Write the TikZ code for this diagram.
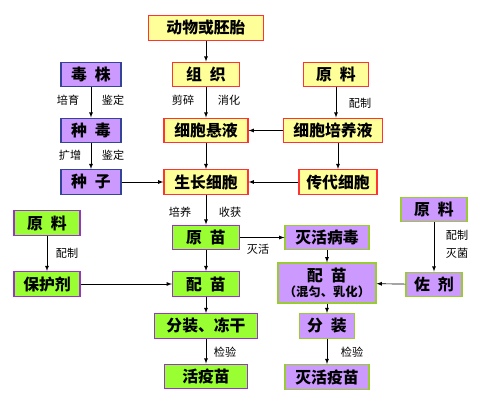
\documentclass[tikz,border=0pt]{standalone}
\usepackage{fontspec}
\setmainfont{Noto Sans CJK SC}
\usetikzlibrary{arrows}
\definecolor{ylwfill}{HTML}{FFFF99}
\definecolor{ylwline}{HTML}{FF3333}
\definecolor{prpfill}{HTML}{CC99FF}
\definecolor{prpline}{HTML}{334499}
\definecolor{prpline2}{HTML}{99CC33}
\definecolor{grnfill}{HTML}{99FF33}
\definecolor{grnline}{HTML}{9933CC}
\tikzset{
  box/.style={draw, line width=1pt, inner sep=0pt, font=\fontsize{13.5}{14}\selectfont\bfseries, minimum height=0.74cm},
  ylwbox/.style={box, fill=ylwfill, draw=ylwline},
  virbox/.style={box, fill=prpfill, draw=prpline},
  inabox/.style={box, fill=prpfill, draw=prpline2},
  grnbox/.style={box, fill=grnfill, draw=grnline},
  lbl/.style={font=\fontsize{9.5}{10}\selectfont, black},
  arr/.style={line width=0.2mm, black, ->, >=latex}
}
\begin{document}
\begin{tikzpicture}[x=0.03cm, y=-0.03cm]
    \useasboundingbox[fill=white] (0,0) rectangle (477,411);
    % top yellow part
    \node[ylwbox, minimum width=3.45cm] (embryo) at (206,28) {动物或胚胎};
    \node[ylwbox, minimum width=2.01cm] (tissue) at (206,74.5) {组\enspace 织};
    \node[ylwbox, minimum width=2.52cm] (susp) at (206,130.5) {细胞悬液};
    \node[ylwbox, minimum width=2.52cm] (grow) at (206,182) {生长细胞};
    \node[ylwbox, minimum width=1.95cm] (rawy) at (336,74.5) {原\enspace 料};
    \node[ylwbox, minimum width=2.97cm] (medium) at (333,130.5) {细胞培养液};
    \node[ylwbox, minimum width=2.34cm] (pass) at (338,182) {传代细胞};
    % virus seed
    \node[virbox, minimum width=1.8cm] (strain) at (91,74.5) {毒\enspace 株};
    \node[virbox, minimum width=1.8cm] (seedvir) at (91,130.5) {种\enspace 毒};
    \node[virbox, minimum width=1.8cm] (seed) at (91,182) {种\enspace 子};
    % live vaccine
    \node[grnbox, minimum width=1.98cm] (rawg) at (47,223) {原\enspace 料};
    \node[grnbox, minimum width=1.98cm] (protect) at (47,284) {保护剂};
    \node[grnbox, minimum width=2.01cm] (crude) at (206,237.5) {原\enspace 苗};
    \node[grnbox, minimum width=2.01cm] (mixg) at (206,284) {配\enspace 苗};
    \node[grnbox, minimum width=3.09cm] (fill) at (206,326) {分装、冻干};
    \node[grnbox, minimum width=2.49cm] (live) at (206,376.5) {活疫苗};
    % inactivated vaccine
    \node[inabox, minimum width=2.52cm] (kill) at (327,237.5) {灭活病毒};
    \node[inabox, minimum width=2.94cm, minimum height=1.2cm, align=center] (mixp) at (327,283)
        {配\enspace 苗\\[-1pt]{\fontsize{10.5}{11}\selectfont （混匀、乳化）}};
    \node[inabox, minimum width=1.98cm] (rawp) at (434,209.5) {原\enspace 料};
    \node[inabox, minimum width=1.68cm] (adj) at (434,284.5) {佐\enspace 剂};
    \node[inabox, minimum width=1.65cm] (fillp) at (327,326) {分\enspace 装};
    \node[inabox, minimum width=2.52cm] (dead) at (327,377) {灭活疫苗};
    % arrows
    \draw[arr] (embryo) -- (tissue);
    \draw[arr] (tissue) -- (susp);
    \draw[arr] (susp) -- (grow);
    \draw[arr] (grow) -- (crude);
    \draw[arr] (crude) -- (mixg);
    \draw[arr] (mixg) -- (fill);
    \draw[arr] (fill) -- (live);
    \draw[arr] (rawy.south) -- (rawy.south |- medium.north);
    \draw[arr] (medium.south -| pass) -- (pass);
    \draw[arr] (medium) -- (susp);
    \draw[arr] (pass) -- (grow);
    \draw[arr] (strain) -- (seedvir);
    \draw[arr] (seedvir) -- (seed);
    \draw[arr] (seed) -- (grow);
    \draw[arr] (rawg) -- (protect);
    \draw[arr] (protect) -- (mixg);
    \draw[arr] (crude) -- (kill);
    \draw[arr] (kill) -- (mixp);
    \draw[arr] (mixp) -- (fillp);
    \draw[arr] (fillp) -- (dead);
    \draw[arr] (rawp) -- (adj);
    \draw[arr] (adj) -- (mixp);
    % labels
    \node[lbl] (l1) at (68,100) {培育};
    \node[lbl] (l2) at (113,100) {鉴定};
    \node[lbl] (l3) at (70,155) {扩增};
    \node[lbl] (l4) at (113,155) {鉴定};
    \node[lbl] (l5) at (183,100) {剪碎};
    \node[lbl] (l6) at (229,100) {消化};
    \node[lbl] (l7) at (360,103) {配制};
    \node[lbl] (l8) at (180,212) {培养};
    \node[lbl] (l9) at (230,212) {收获};
    \node[lbl] (l10) at (67,253) {配制};
    \node[lbl] (l11) at (258,249) {灭活};
    \node[lbl] (l12) at (457,235) {配制};
    \node[lbl] (l13) at (457,253) {灭菌};
    \node[lbl] (l14) at (225,352) {检验};
    \node[lbl] (l15) at (352,352) {检验};
\end{tikzpicture}
\end{document}
